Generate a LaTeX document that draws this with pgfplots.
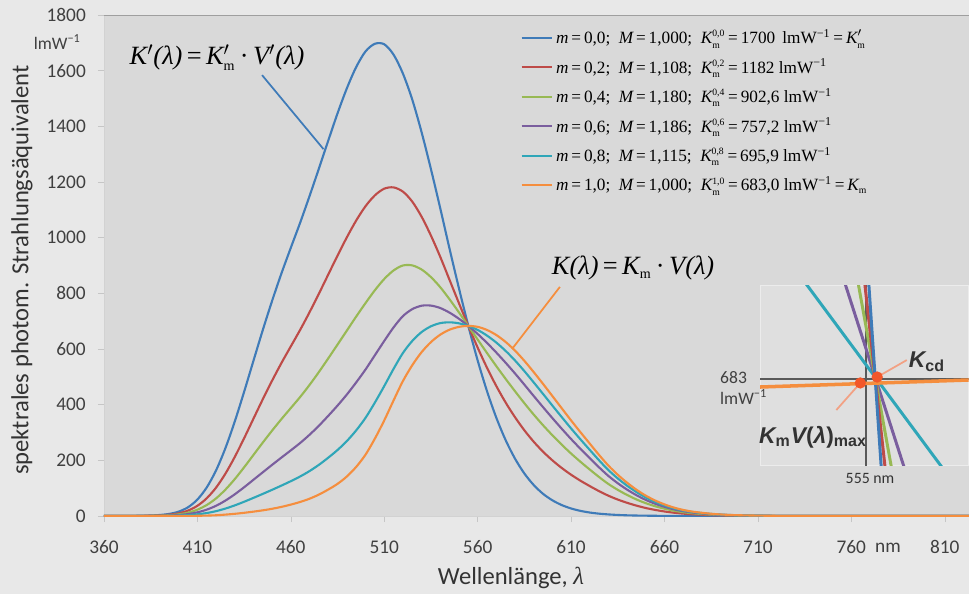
\documentclass[border=0pt]{standalone}
\usepackage{fontspec}
\usepackage{pgfplots}
\usepackage{pgfplotstable}
\pgfplotsset{compat=1.18}
\setmainfont{Carlito}
\newfontfamily\eqf{Liberation Serif}
\newfontfamily\arf{Liberation Sans}

\definecolor{pagebg}{HTML}{E8E8E8}
\definecolor{plotbg}{HTML}{D9D9D9}
\definecolor{cblue}{HTML}{3F7BB8}
\definecolor{cred}{HTML}{BE4B48}
\definecolor{cgreen}{HTML}{98B954}
\definecolor{cpurple}{HTML}{7A5E9E}
\definecolor{cteal}{HTML}{2FA6B8}
\definecolor{corange}{HTML}{F58E3E}
\definecolor{cdot}{HTML}{F2572A}
\definecolor{cpink}{HTML}{F2A184}

\newcommand\lmw{lmW\textsuperscript{−1}}
\newcommand\Kmm[1]{$\mbox{\itshape K}^{\mbox{\fontsize{5.5}{5.5}\selectfont #1}}_{\mbox{\fontsize{5.5}{5.5}\selectfont m}}$}

% lambda, m=0.0, 0.2, 0.4, 0.6, 0.8, 1.0
\pgfplotstableread{
lam  a      b      c      d      e      f
360  0      0      0      0      0      0
370  0.2    0.1    0.1    0      0      0
380  1.0    0.6    0.4    0.2    0.1    0.03
385  1.9    1.2    0.7    0.4    0.2    0.04
390  3.8    2.3    1.5    0.9    0.4    0.08
395  7.7    4.8    3.0    1.7    0.8    0.15
400  15.8   9.8    6.1    3.5    1.7    0.27
405  31.5   19.6   12.1   7.0    3.3    0.44
410  59.2   36.8   22.8   13.2   6.2    0.83
415  102.7  63.8   39.5   22.9   10.7   1.5
420  164.2  102.2  63.4   36.8   17.5   2.7
425  244.1  152.3  94.9   55.5   26.8   5.0
430  339.7  212.3  132.6  78.0   38.2   7.9
435  446.3  279.4  175.0  103.3  51.2   11.5
440  557.8  349.7  219.5  130.2  65.2   15.7
445  668.3  419.6  263.9  157.2  79.5   20.4
450  773.5  486.6  307.0  183.9  94.2   26.0
455  872.1  550.0  348.4  210.1  109.4  32.8
460  963.9  609.6  388.0  235.9  125.2  41.0
465  1054.0 668.9  427.7  262.4  142.1  50.5
470  1149.2 731.9  470.8  291.8  161.4  62.1
475  1247.8 798.4  517.1  324.2  183.8  76.9
480  1348.1 867.1  566.0  359.7  209.4  95.0
485  1446.7 935.7  616.0  396.8  237.2  115.6
490  1536.8 1001.4 666.3  436.6  269.4  142.1
495  1613.3 1061.8 716.7  480.1  307.8  176.6
500  1669.4 1113.2 765.2  526.6  352.9  220.6
505  1696.6 1152.1 811.3  577.8  407.7  278.2
510  1694.9 1176.1 851.5  628.9  466.9  343.5
515  1657.5 1180.6 882.3  677.7  528.7  415.4
520  1589.5 1165.4 900.1  718.2  585.7  484.9
525  1496.0 1129.5 900.4  743.2  628.9  541.8
530  1378.7 1075.3 885.6  755.5  660.9  588.7
535  1246.1 1007.4 858.3  756.0  681.6  624.9
540  1105.0 930.8  821.9  747.2  693.0  651.6
545  958.8  847.5  778.2  730.5  695.9  669.5
550  817.7  764.4  731.4  708.6  692.2  679.5
555  683.0  683.0  683.0  683.0  683.0  683.0
560  559.0  605.0  634.1  654.0  668.5  679.6
565  448.6  532.7  585.7  621.9  648.3  668.4
570  352.9  466.8  538.3  587.2  623.0  650.2
575  272.3  407.5  492.5  550.5  593.0  625.2
580  206.0  354.9  448.2  512.1  558.7  594.2
585  152.8  308.0  405.3  472.0  520.6  557.5
590  111.4  266.9  364.5  431.2  480.0  517.0
595  79.7   231.1  326.1  391.1  438.6  474.6
600  56.4   200.0  290.1  351.8  396.7  431.0
605  39.3   172.6  256.3  313.6  355.4  387.1
610  27.1   148.4  224.5  276.6  314.7  343.5
615  18.5   126.9  195.0  241.5  275.5  301.3
620  12.5   107.5  167.0  207.8  237.6  260.2
625  8.4    89.3   140.0  174.7  200.0  219.2
630  5.7    72.9   115.0  143.9  165.0  181.0
635  3.8    59.1   93.9   117.7  135.0  148.2
640  2.5    47.4   75.6   94.8   108.8  119.5
645  1.7    37.3   59.5   74.8   86.0   94.4
650  1.2    28.7   46.0   57.8   66.5   73.1
655  0.8    21.9   35.1   44.1   50.7   55.7
660  0.5    16.3   26.2   33.0   37.9   41.7
665  0.4    11.9   19.1   24.1   27.7   30.4
670  0.3    8.6    13.7   17.3   19.9   21.9
675  0.1    6.2    9.9    12.5   14.4   15.8
680  0.1    4.6    7.2    9.2    10.6   11.6
685  0      3.1    5.1    6.4    7.4    8.1
690  0      2.2    3.5    4.4    5.1    5.6
695  0      1.5    2.4    3.1    3.6    3.9
700  0      1.1    1.7    2.2    2.5    2.8
710  0      0.5    0.9    1.1    1.3    1.4
720  0      0.3    0.4    0.6    0.6    0.7
730  0      0.1    0.2    0.3    0.3    0.4
740  0      0      0.1    0.1    0.2    0.2
750  0      0      0      0.1    0.1    0.1
760  0      0      0      0      0      0
790  0      0      0      0      0      0
823  0      0      0      0      0      0
}\spec

\begin{document}
\begin{tikzpicture}
\fill[pagebg] (-2.08,-1.56) rectangle (17.3,10.32);

\begin{axis}[
    at={(0,0)}, anchor=south west,
    scale only axis,
    width=17.3cm, height=10.02cm,
    xmin=360, xmax=823, ymin=0, ymax=1800,
    xtick={360,410,...,810},
    ytick={0,200,...,1800},
    axis background/.style={fill=plotbg},
    axis lines*=left,
    axis line style={draw=gray!35},
    tick align=outside,
    major tick length=0.12cm,
    tick style={gray!45},
    /pgf/number format/assume math mode=true,
    /pgf/number format/1000 sep={},
    tick label style={font=\fontsize{11}{12}\selectfont, text=black!75},
    xticklabel style={yshift=-0.25cm},
    yticklabel style={xshift=-0.12cm},
    legend style={draw=none, fill=none, at={(rel axis cs:0.475,0.986)}, anchor=north west,
        font=\eqf\fontsize{9.8}{10}\selectfont, row sep=3.1pt,
        legend cell align=left},
    legend image code/.code={\draw[#1] (0cm,0cm) -- (0.6cm,0cm);},
    every axis plot/.append style={line width=1.2pt, smooth},
]
\draw[gray!75] (rel axis cs:0,1) -- (rel axis cs:1,1);

\addplot[cblue, no marks] table[x=lam, y=a] {\spec};
\addlegendentry{{\itshape m}\,=\,0,0;\enspace {\itshape M}\,=\,1,000;\enspace \Kmm{0,0}\,=\,1700\, \lmw\,=\,$\mbox{\itshape K}'_{\mbox{\fontsize{5.5}{5.5}\selectfont m}}$}
\addplot[cred, no marks] table[x=lam, y=b] {\spec};
\addlegendentry{{\itshape m}\,=\,0,2;\enspace {\itshape M}\,=\,1,108;\enspace \Kmm{0,2}\,=\,1182\ \lmw}
\addplot[cgreen, no marks] table[x=lam, y=c] {\spec};
\addlegendentry{{\itshape m}\,=\,0,4;\enspace {\itshape M}\,=\,1,180;\enspace \Kmm{0,4}\,=\,902,6\ \lmw}
\addplot[cpurple, no marks] table[x=lam, y=d] {\spec};
\addlegendentry{{\itshape m}\,=\,0,6;\enspace {\itshape M}\,=\,1,186;\enspace \Kmm{0,6}\,=\,757,2\ \lmw}
\addplot[cteal, no marks] table[x=lam, y=e] {\spec};
\addlegendentry{{\itshape m}\,=\,0,8;\enspace {\itshape M}\,=\,1,115;\enspace \Kmm{0,8}\,=\,695,9\ \lmw}
\addplot[corange, no marks] table[x=lam, y=f] {\spec};
\addlegendentry{{\itshape m}\,=\,1,0;\enspace {\itshape M}\,=\,1,000;\enspace \Kmm{1,0}\,=\,683,0\ \lmw\,=\,$\mbox{\itshape K}_{\mbox{\fontsize{5.5}{5.5}\selectfont m}}$}

% leader lines and formulas
\draw[cblue, line width=1pt] (axis cs:444.6,1584) -- (axis cs:477.5,1318);
\draw[corange, line width=1pt] (axis cs:604,823) -- (axis cs:578.4,600);
\node[font=\eqf\fontsize{15}{18}\selectfont\itshape] at (axis cs:420.5,1646)
  {K$'$(λ)\,{\upshape =}\,K$'_{\mbox{\upshape\fontsize{8}{8}\selectfont m}}$\,{\upshape ·}\,V$'$(λ)};
\node[font=\eqf\fontsize{15}{18}\selectfont\itshape] at (axis cs:643.2,891)
  {K(λ)\,{\upshape =}\,K$_{\mbox{\upshape\fontsize{8}{8}\selectfont m}}$\,{\upshape ·}\,V(λ)};
\end{axis}

% inset: zoom of the crossing point at 555 nm
\begin{axis}[
    at={(13.12cm,1.02cm)}, anchor=south west,
    scale only axis,
    width=4.17cm, height=3.6cm,
    xmin=-0.552, xmax=0.448, ymin=-0.741, ymax=0.775,
    xtick=\empty, ytick=\empty,
    axis background/.style={fill=plotbg!85!white},
    axis line style={draw=white!85!gray},
    every axis plot/.append style={line width=1.7pt, no marks},
]
\addplot[gray!70!black, line width=1.2pt] coordinates {(-0.043,-0.8) (-0.043,0.8)};
\addplot[gray!70!black, line width=1.2pt] coordinates {(-0.6,-0.017) (0.5,-0.017)};
\addplot[cteal] coordinates {(-0.6,1.422) (0.6,-1.422)};
\addplot[cpurple] coordinates {(-0.2,1.092) (0.2,-1.092)};
\addplot[cgreen] coordinates {(-0.1,0.973) (0.1,-0.973)};
\addplot[cred] coordinates {(-0.06,0.954) (0.06,-0.954)};
\addplot[cblue] coordinates {(-0.04,1.036) (0.04,-1.036)};
\addplot[corange, line width=2pt] coordinates {(-0.6,-0.087) (0.5,-0.022)};
\draw[cpink, line width=1pt] (axis cs:0.01,0) -- (axis cs:0.152,0.143);
\draw[cpink, line width=1pt] (axis cs:-0.071,-0.05) -- (axis cs:-0.186,-0.278);
\addplot[only marks, mark=*, mark size=2.3pt, cdot, mark options={draw=cdot}] coordinates {(0.01,0) (-0.071,-0.05)};
\end{axis}

% labels outside the plotting area
\node[font=\fontsize{14}{16}\selectfont, text=black!80, rotate=90] at (-1.64,4.92)
  {spektrales photom. Strahlungsäquivalent};
\node[font=\fontsize{14}{16}\selectfont, text=black!80] at (8.14,-1.24)
  {Wellenlänge, {\eqf\itshape λ}};
\node[font=\fontsize{10}{12}\selectfont, text=black!75, anchor=east] at (-0.34,9.48) {\lmw};
\node[font=\fontsize{11}{12}\selectfont, text=black!75] at (15.68,-0.64) {nm};
\node[font=\fontsize{9}{10}\selectfont, text=black!80] at (15.32,0.76) {555 nm};
\node[font=\fontsize{10}{11}\selectfont, text=black!75, anchor=west] at (12.2,2.76) {683};
\node[font=\fontsize{10}{11}\selectfont, text=black!75, anchor=west] at (12.2,2.38) {\lmw};
\node[font=\arf\bfseries\fontsize{13}{14}\selectfont, text=black!80] at (16.46,3.08)
  {{\itshape K}\textsubscript{cd}};
\node[font=\arf\bfseries\fontsize{13}{14}\selectfont, text=black!80] at (14.18,1.58)
  {{\itshape K}\textsubscript{m}{\itshape V}({\itshape λ})\textsubscript{max}};

\pgfresetboundingbox
\path (-2.08,-1.56) rectangle (17.3,10.32);
\end{tikzpicture}
\end{document}
